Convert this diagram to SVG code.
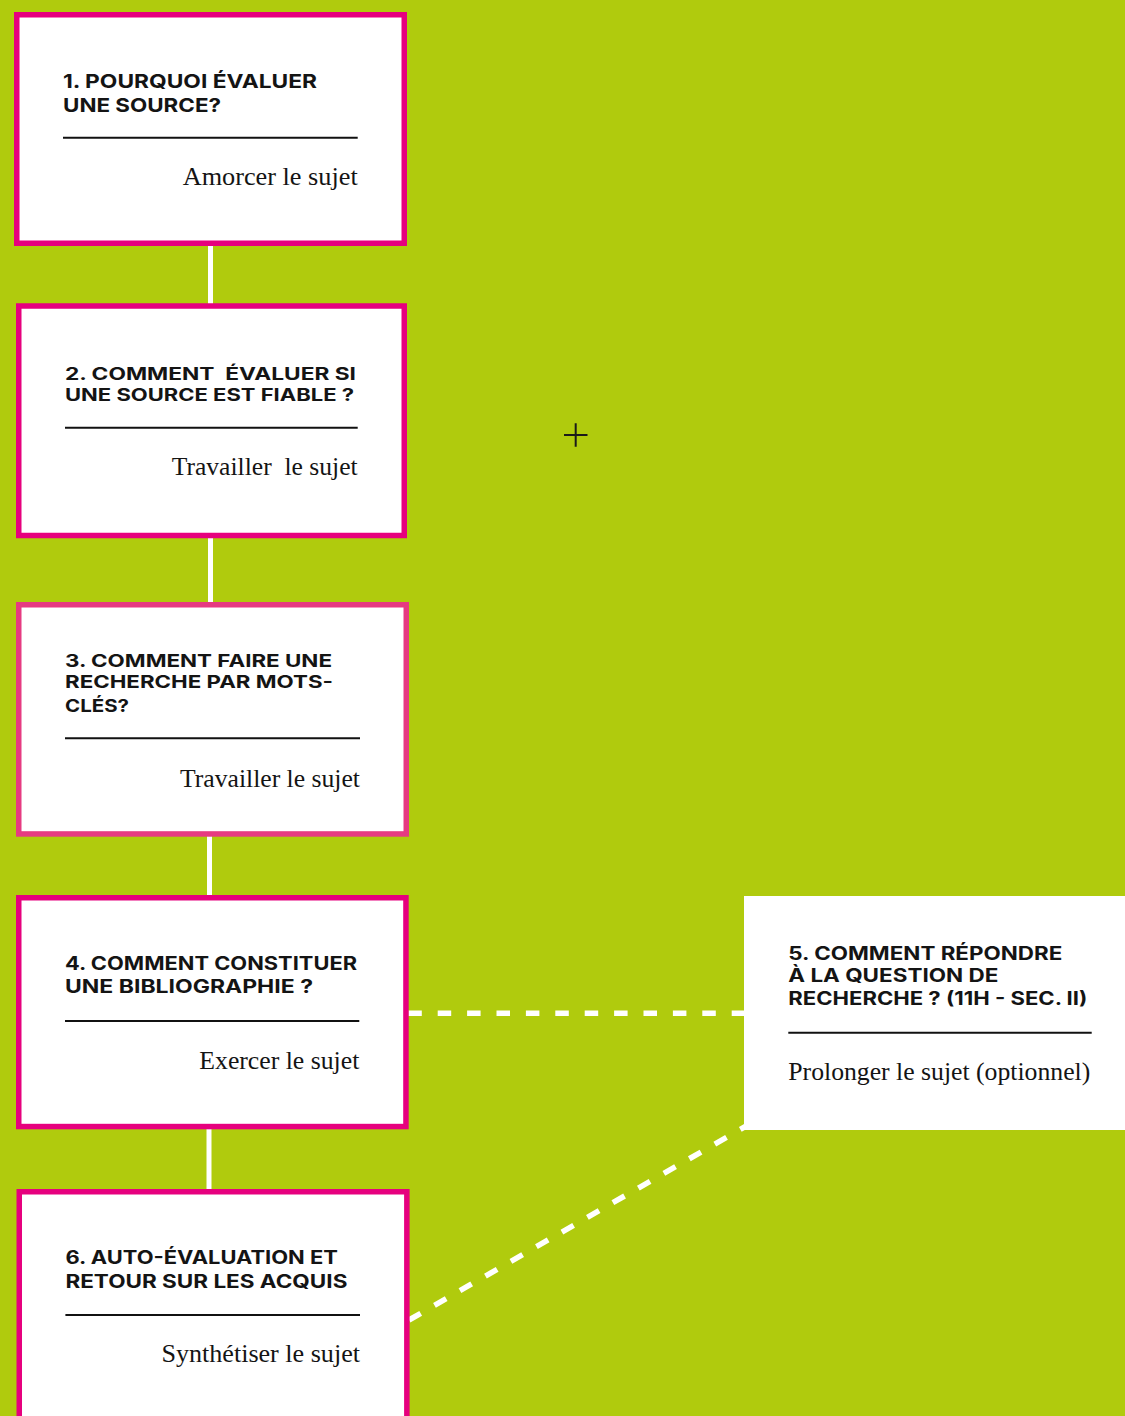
<svg xmlns="http://www.w3.org/2000/svg" width="1125" height="1416" viewBox="0 0 1125 1416">
<style>
.bg{fill:#b0cb0d}
.box{fill:#ffffff;stroke:#e6007e;stroke-width:5.5}
.box3{fill:#ffffff;stroke:#e63b81;stroke-width:5.5}
.plain{fill:#ffffff}
.rule{stroke:#111111;stroke-width:2}
.h{font-family:Inter,"Open Sans","Liberation Sans",sans-serif;font-weight:700;fill:#141414;white-space:pre}
.s{font-family:"Liberation Serif","DejaVu Serif",serif;fill:#141414;white-space:pre}
.vline{stroke:#ffffff;stroke-width:5;fill:none}
.dash{stroke:#ffffff;stroke-width:5.5;fill:none;stroke-dasharray:13.5 15.9}
.plus{stroke:#1a1a1a;stroke-width:2;fill:none}
</style>
<rect class="bg" x="0" y="0" width="1125" height="1416"/>
<g id="connectors">
<line class="vline" x1="210.5" y1="243" x2="210.5" y2="306"/>
<line class="vline" x1="210.5" y1="536" x2="210.5" y2="605"/>
<line class="vline" x1="209.5" y1="834" x2="209.5" y2="898"/>
<line class="vline" x1="209" y1="1127" x2="209" y2="1192"/>
<line class="dash" x1="408.3" y1="1013.3" x2="745" y2="1013.3"/>
<line class="dash" x1="409" y1="1320" x2="748" y2="1125"/>
</g>
<g id="plus"><path class="plus" d="M564 435 H587.5 M575.7 423.3 V446.7"/></g>
<g id="node1">
<rect class="box" x="16.75" y="14.75" width="387.5" height="228.5"/>
<text class="h" font-size="19.3"><tspan x="63" y="88" textLength="254" lengthAdjust="spacingAndGlyphs">1. POURQUOI ÉVALUER</tspan><tspan x="63" y="111.7" textLength="158" lengthAdjust="spacingAndGlyphs">UNE SOURCE?</tspan></text>
<line class="rule" x1="63" y1="137.7" x2="357.7" y2="137.7"/>
<text class="s" font-size="25" x="182.7" y="185" textLength="175" lengthAdjust="spacingAndGlyphs">Amorcer le sujet</text>
</g>
<g id="node2">
<rect class="box" x="18.75" y="306" width="385.5" height="229.5"/>
<text class="h" font-size="17"><tspan x="65" y="380" textLength="291" lengthAdjust="spacingAndGlyphs">2. COMMENT  ÉVALUER SI</tspan><tspan x="65" y="401" textLength="289" lengthAdjust="spacingAndGlyphs">UNE SOURCE EST FIABLE ?</tspan></text>
<line class="rule" x1="65" y1="427.7" x2="357.7" y2="427.7"/>
<text class="s" font-size="25" x="171.7" y="475" textLength="186" lengthAdjust="spacingAndGlyphs">Travailler  le sujet</text>
</g>
<g id="node3">
<rect class="box3" x="18.75" y="604.75" width="387.5" height="229.2"/>
<text class="h" font-size="17.5"><tspan x="65" y="666.7" textLength="267" lengthAdjust="spacingAndGlyphs">3. COMMENT FAIRE UNE</tspan><tspan x="65" y="688.3" textLength="268" lengthAdjust="spacingAndGlyphs">RECHERCHE PAR MOTS-</tspan><tspan x="65" y="711.7" textLength="64" lengthAdjust="spacingAndGlyphs">CLÉS?</tspan></text>
<line class="rule" x1="65" y1="738.3" x2="360" y2="738.3"/>
<text class="s" font-size="25" x="180" y="786.7" textLength="180" lengthAdjust="spacingAndGlyphs">Travailler le sujet</text>
</g>
<g id="node4">
<rect class="box" x="18.75" y="897.75" width="387.2" height="228.8"/>
<text class="h" font-size="18.3"><tspan x="65" y="970" textLength="292" lengthAdjust="spacingAndGlyphs">4. COMMENT CONSTITUER</tspan><tspan x="65" y="993.3" textLength="248" lengthAdjust="spacingAndGlyphs">UNE BIBLIOGRAPHIE ?</tspan></text>
<line class="rule" x1="65" y1="1021" x2="359.3" y2="1021"/>
<text class="s" font-size="25" x="199.3" y="1069.3" textLength="160" lengthAdjust="spacingAndGlyphs">Exercer le sujet</text>
</g>
<g id="node5">
<rect class="plain" x="744" y="896" width="385" height="234"/>
<text class="h" font-size="18.3"><tspan x="788.3" y="960" textLength="274" lengthAdjust="spacingAndGlyphs">5. COMMENT RÉPONDRE</tspan><tspan x="788.3" y="981.7" textLength="210" lengthAdjust="spacingAndGlyphs">À LA QUESTION DE</tspan><tspan x="788.3" y="1005" textLength="299" lengthAdjust="spacingAndGlyphs">RECHERCHE ? (11H - SEC. II)</tspan></text>
<line class="rule" x1="788.3" y1="1032.7" x2="1091.7" y2="1032.7"/>
<text class="s" font-size="25" x="788.3" y="1080" textLength="302" lengthAdjust="spacingAndGlyphs">Prolonger le sujet (optionnel)</text>
</g>
<g id="node6">
<rect class="box" x="19.25" y="1191.75" width="387.6" height="300"/>
<text class="h" font-size="18.3"><tspan x="65.4" y="1264.3" textLength="272.5" lengthAdjust="spacingAndGlyphs">6. AUTO-ÉVALUATION ET</tspan><tspan x="65.4" y="1288.3" textLength="282" lengthAdjust="spacingAndGlyphs">RETOUR SUR LES ACQUIS</tspan></text>
<line class="rule" x1="65.4" y1="1315" x2="360" y2="1315"/>
<text class="s" font-size="25" x="161.4" y="1361.7" textLength="198.6" lengthAdjust="spacingAndGlyphs">Synthétiser le sujet</text>
</g>
</svg>
